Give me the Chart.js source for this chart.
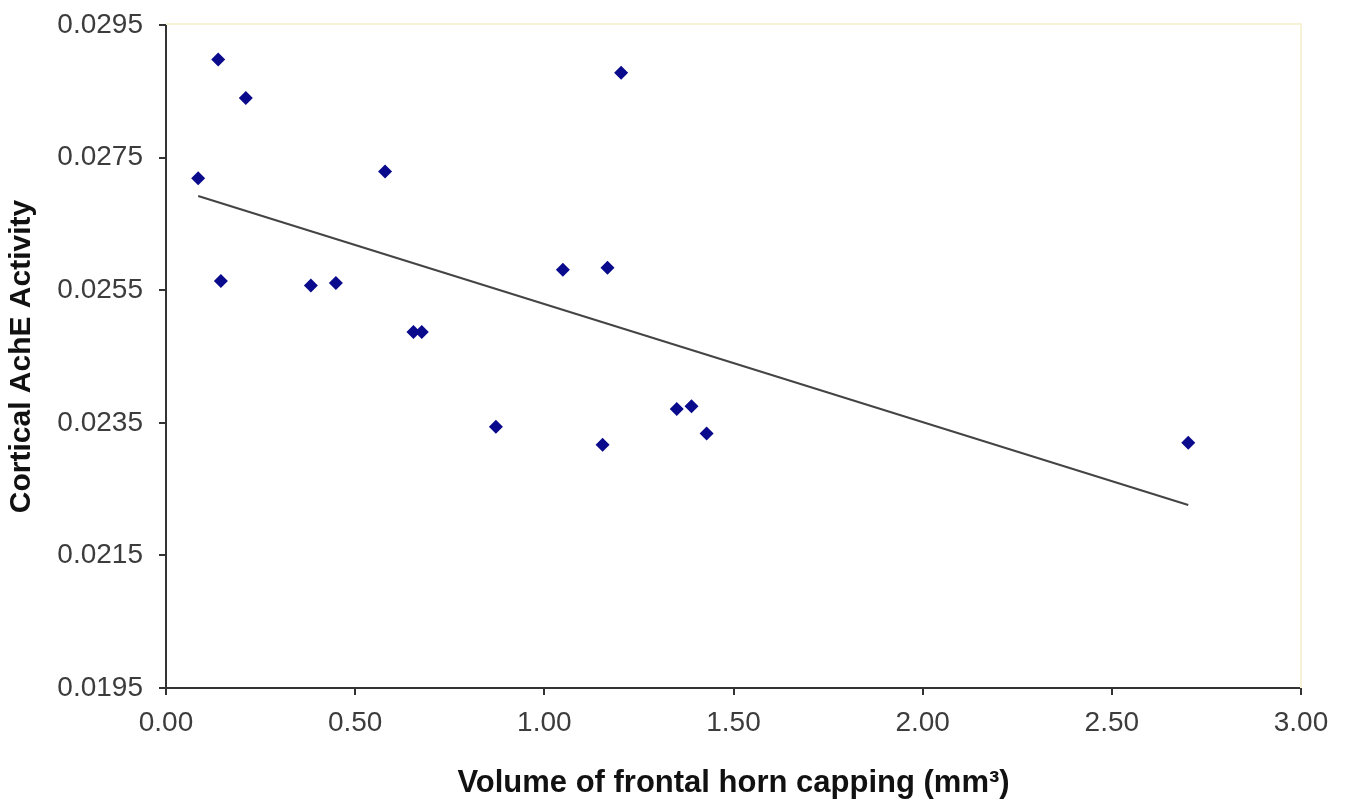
<!DOCTYPE html>
<html>
<head>
<meta charset="utf-8">
<script src="https://cdn.jsdelivr.net/npm/chart.js@4/dist/chart.umd.min.js"></script>
<style>
  html, body { margin: 0; padding: 0; background: #fff; }
  #wrap { width: 1350px; height: 808px; }
</style>
</head>
<body>
<div id="wrap"><canvas id="c"></canvas></div>
<script>
// volume of frontal horn capping (mm3)
const volume = [0.085, 0.138, 0.145, 0.211, 0.383, 0.449, 0.579, 0.654, 0.676,
  0.872, 1.049, 1.154, 1.167, 1.203, 1.350, 1.389, 1.429, 2.702]
// cortical AchE activity
const ache = [0.02719, 0.02898, 0.02564, 0.02840, 0.02557, 0.02561, 0.02729, 0.02487, 0.02487,
  0.02344, 0.02581, 0.02317, 0.02584, 0.02878, 0.02371, 0.02375, 0.02334, 0.02320]

// trend line end points
const trendX = [0.085, 2.702]
const trendY = [0.02692, 0.02226]

const xTicks = [0, 0.5, 1, 1.5, 2, 2.5, 3]
const yTicks = [0.0195, 0.0215, 0.0235, 0.0255, 0.0275, 0.0295]

const points = volume.map((v, i) => ({ x: v, y: ache[i] }))
const trend = trendX.map((v, i) => ({ x: v, y: trendY[i] }))

const tickFont = { family: 'Liberation Sans, Arial, sans-serif', size: 28 }
const titleFont = { family: 'Liberation Sans, Arial, sans-serif', size: 30, weight: 'bold' }

// faint frame on the plot area (top and right edges)
const frame = {
  id: 'frame',
  beforeDatasetsDraw(chart) {
    const a = chart.chartArea
    const ctx = chart.ctx
    ctx.save()
    ctx.strokeStyle = '#f6f2d6'
    ctx.lineWidth = 2
    ctx.beginPath()
    ctx.moveTo(a.left, a.top - 1)
    ctx.lineTo(a.right, a.top - 1)
    ctx.lineTo(a.right, a.bottom)
    ctx.stroke()
    ctx.restore()
  }
}

new Chart(document.getElementById('c'), {
  type: 'scatter',
  data: {
    datasets: [
      {
        data: trend,
        type: 'line',
        showLine: true,
        borderColor: '#444',
        borderWidth: 2,
        pointRadius: 0,
        fill: false
      },
      {
        data: points,
        pointStyle: 'rectRot',
        pointRadius: 7,
        backgroundColor: '#0a0a8c',
        borderColor: '#0a0a8c',
        borderWidth: 0
      }
    ]
  },
  options: {
    responsive: true,
    maintainAspectRatio: false,
    animation: false,
    layout: { padding: { top: 25, right: 49, left: 0, bottom: 0 } },
    plugins: { legend: { display: false }, tooltip: { enabled: false } },
    scales: {
      x: {
        type: 'linear',
        min: 0,
        max: 3,
        afterBuildTicks: s => { s.ticks = xTicks.map(v => ({ value: v })) },
        afterFit: s => { s.height = 120 },
        ticks: {
          callback: v => v.toFixed(2),
          font: tickFont,
          color: '#3c3c3c',
          padding: 11,
          maxRotation: 0
        },
        grid: { drawOnChartArea: false, drawTicks: true, tickLength: 7, color: '#333', lineWidth: 2 },
        border: { display: true, color: '#333', width: 2 },
        title: {
          display: true,
          text: 'Volume of frontal horn capping (mm³)',
          font: { family: 'Liberation Sans, Arial, sans-serif', size: 31, weight: 'bold' },
          color: '#111',
          padding: { top: 0, bottom: 6 }
        }
      },
      y: {
        type: 'linear',
        min: 0.0195,
        max: 0.0295,
        afterBuildTicks: s => { s.ticks = yTicks.map(v => ({ value: v })) },
        afterFit: s => {
          s.width = 166
          s.paddingTop = 0
          s.paddingBottom = 0
        },
        ticks: {
          callback: v => v.toFixed(4),
          font: tickFont,
          color: '#3c3c3c',
          padding: 16
        },
        grid: { drawOnChartArea: false, drawTicks: true, tickLength: 7, color: '#333', lineWidth: 2 },
        border: { display: true, color: '#333', width: 2 },
        title: {
          display: true,
          text: 'Cortical AchE Activity',
          font: titleFont,
          color: '#111',
          padding: { top: 4, bottom: 0 }
        }
      }
    }
  },
  plugins: [frame]
})
</script>
</body>
</html>
